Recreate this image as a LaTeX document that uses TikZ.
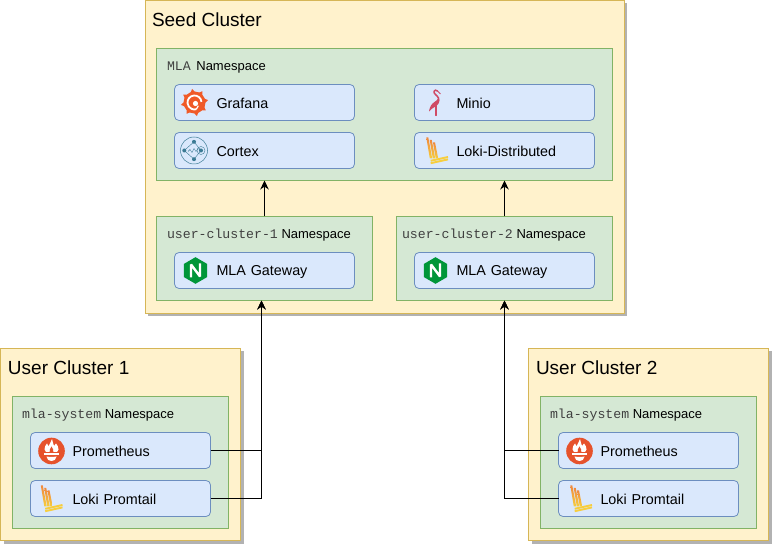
\documentclass[tikz,border=0pt]{standalone}
\usepackage{fontspec}
\setmainfont{Liberation Sans}
\newfontfamily\nsmono{Liberation Mono}
\usetikzlibrary{arrows.meta}
\usetikzlibrary{shadows}

\definecolor{clusterfill}{HTML}{FFF2CC}
\definecolor{clusterline}{HTML}{D6B656}
\definecolor{nsfill}{HTML}{D5E8D4}
\definecolor{nsline}{HTML}{82B366}
\definecolor{appfill}{HTML}{DAE8FC}
\definecolor{appline}{HTML}{6C8EBF}
\definecolor{grafanaorange}{HTML}{F05A28}
\definecolor{cortexblue}{HTML}{3B7A94}
\definecolor{miniored}{HTML}{CF4A65}
\definecolor{nginxgreen}{HTML}{009639}
\definecolor{promred}{HTML}{E6522C}
\definecolor{lokiorange}{HTML}{F0883C}
\definecolor{lokiyellow}{HTML}{F7CE3E}

\newcommand{\nstext}[1]{{\color{black!75}\nsmono\fontsize{13.2}{15}\selectfont #1}}

\tikzset{
    cluster/.style={draw=clusterline, fill=clusterfill, line width=0.8pt, anchor=north west,
        drop shadow={shadow xshift=3pt, shadow yshift=-3pt, fill=black!30, opacity=1}},
    nsbox/.style={draw=nsline, fill=nsfill, line width=0.8pt, anchor=north west},
    appbox/.style={draw=appline, fill=appfill, line width=0.8pt, rounded corners=4.5pt,
        minimum width=180pt, minimum height=36pt, inner xsep=4pt, inner ysep=0pt,
        text width=172pt, align=left, font=\fontsize{14.35}{16}\selectfont,
        execute at begin node={\rule[-1pt]{0pt}{14pt}\hspace*{38pt}}},
    clustertitle/.style={anchor=base west, inner sep=0pt, font=\fontsize{19}{21}\selectfont},
    nslabel/.style={anchor=base west, inner sep=0pt, font=\fontsize{13}{15}\selectfont},
    link/.style={line width=0.9pt, -{Stealth[length=9pt, width=8.5pt]}},
    pics/grafanaicon/.style={code={
        \foreach \a in {0,45,...,315}
            \fill[grafanaorange, rotate=10] (\a-15:10pt) -- (\a:13.8pt) -- (\a+15:10pt) -- cycle;
        \fill[grafanaorange] (0,0) circle (11pt);
        \draw[white, line width=1.8pt] (5:7pt) arc (5:285:7pt);
        \draw[white, line width=1.2pt] (285:7pt) -- (320:5pt);
        \fill[white] (1,1) circle (2.6pt);
    }},
    pics/cortexicon/.style={code={
        \draw[cortexblue, line width=0.5pt] (0,0) circle (13.5pt);
        \draw[cortexblue, line width=0.4pt] (-9.7,0) -- (0,-8.7) -- (7,0) -- (0,8.7) -- cycle;
        \draw[cortexblue, line width=0.4pt] (-6,1) -- (-4,-1) -- (-2,2) -- (0,-2) -- (2,1) -- (4,-2) -- (7,0);
        \draw[cortexblue, line width=0.4pt] (7,0) circle (4pt);
        \foreach \p in {(-9.7,0),(0,-8.7),(7,0),(0,8.7)}
            \fill[cortexblue] \p circle (2pt);
    }},
    pics/minioicon/.style={code={
        \draw[miniored, line width=1.5pt, line cap=round]
            (2,-11.5) .. controls (-1,-14) and (-3,-10) .. (0,-8)
            .. controls (3,-5.5) and (4,-3.5) .. (2,-1);
        \fill[miniored] (3.5,-5) .. controls (5,-1) and (3,2) .. (0,4)
            .. controls (-2,5) and (-5,7) .. (-6.5,9)
            .. controls (-6,5) and (-4,1) .. (-1,-0.5)
            .. controls (1,-1.5) and (2,-3) .. (3.5,-5) -- cycle;
        \draw[miniored, line width=1pt] (2,-11.5) -- (5,-8.5);
        \draw[miniored, line width=1.2pt, line cap=round] (0.5,3) -- (0.5,13);
    }},
    pics/lokiicon/.style={code={
        \foreach \xa/\ya/\xb in {-9.7/-13/-6,-6.3/-10.7/-3,-3/-8/0}
            \shade[top color=lokiorange, bottom color=lokiyellow]
                (\xa-1,\ya) -- (\xa+1,\ya) -- (\xb+1.2,8) -- (\xb-1.2,8) -- cycle;
        \foreach \y in {10.3,12.7}
            \draw[lokiyellow, line width=1.9pt] (-6.3,\y) -- (11,\y-3.8);
    }},
    pics/nginxicon/.style={code={
        \fill[nginxgreen] (90:13.3pt) -- (150:13.3pt) -- (210:13.3pt) -- (270:13.3pt) -- (330:13.3pt) -- (30:13.3pt) -- cycle;
        \draw[white, line width=2.4pt, line join=bevel] (-4.5,7) -- (-4.5,-6) -- (4.5,6) -- (4.5,-7);
    }},
    pics/promicon/.style={code={
        \fill[promred] (0,0.5) circle (13.3pt);
        \fill[white] (-7,-1) .. controls (-8,-4) and (-5,-5) .. (-4.5,-7)
            .. controls (-3.5,-6) and (-3,-5) .. (-3,-4)
            .. controls (-2,-6) and (-1,-8) .. (0.5,-11.5)
            .. controls (1,-8) and (2,-7) .. (2.5,-4.5)
            .. controls (3,-5) and (4,-6) .. (4.5,-7)
            .. controls (5,-5) and (8,-4) .. (7,-1)
            .. controls (6.5,0.5) and (6,1) .. (5.5,1.5)
            -- (-5.5,1.5) .. controls (-6,1) and (-6.5,0.5) .. (-7,-1) -- cycle;
        \fill[promred] (-1.8,1.5) .. controls (-3,-0.5) and (-0.8,-1.5) .. (0,-4)
            .. controls (0.8,-1.5) and (3,-0.5) .. (1.8,1.5) -- cycle;
        \fill[white] (-7.3,2.5) rectangle (7.3,5);
        \fill[white] (-5,6) .. controls (-3,6.5) and (3,6.5) .. (5,6)
            .. controls (4.5,9) and (3,10.5) .. (0,10.5)
            .. controls (-3,10.5) and (-4.5,9) .. (-5,6) -- cycle;
    }},
}

\begin{document}
\begin{tikzpicture}[x=1pt, y=-1pt, inner sep=0pt, outer sep=0pt]
    \useasboundingbox (0,0) rectangle (772,545);

    % Seed Cluster
    \node[cluster, minimum width=479pt, minimum height=313pt] (seed) at (145,0.5) {};
    \node[clustertitle] (seedtitle) at (152,26.3) {Seed Cluster};

    % MLA Namespace
    \node[nsbox, minimum width=456pt, minimum height=132pt] (mlans) at (156.5,48.5) {};
    \node[nslabel] (mlalabel) at (167,70.5) {\nstext{MLA}\hspace{2pt} Namespace};
    \node[appbox] (grafana) at (264.5,102.5) {Grafana};
    \node[appbox] (cortex) at (264.5,150.5) {Cortex};
    \node[appbox] (minio) at (504.5,102.5) {Minio};
    \node[appbox] (lokidist) at (504.5,150.5) {Loki-Distributed};
    \pic at ([xshift=20pt]grafana.west) {grafanaicon};
    \pic at ([xshift=19.5pt]cortex.west) {cortexicon};
    \pic at ([xshift=21pt]minio.west) {minioicon};
    \pic at ([xshift=22.5pt]lokidist.west) {lokiicon};

    % Gateway Namespaces
    \node[nsbox, minimum width=216pt, minimum height=84pt] (gwnsa) at (156.5,216.5) {};
    \node[nslabel] (gwlabela) at (167,238.5) {\nstext{user-cluster-1} Namespace};
    \node[appbox] (gatewaya) at (264.5,270.5) {MLA Gateway};
    \pic at ([xshift=21pt]gatewaya.west) {nginxicon};

    \node[nsbox, minimum width=216pt, minimum height=84pt] (gwnsb) at (396.5,216.5) {};
    \node[nslabel] (gwlabelb) at (402,238.5) {\nstext{user-cluster-2} Namespace};
    \node[appbox] (gatewayb) at (504.5,270.5) {MLA Gateway};
    \pic at ([xshift=21pt]gatewayb.west) {nginxicon};

    % User Cluster 1
    \node[cluster, minimum width=240pt, minimum height=192pt] (usera) at (0.5,348.5) {};
    \node[clustertitle] (usertitlea) at (8,374.3) {User Cluster 1};
    \node[nsbox, minimum width=216pt, minimum height=132pt] (sysnsa) at (12.5,396.5) {};
    \node[nslabel] (syslabela) at (22,418.5) {\nstext{mla-system} Namespace};
    \node[appbox] (proma) at (120.5,450.5) {Prometheus};
    \node[appbox] (promtaila) at (120.5,498.5) {Loki Promtail};
    \pic at ([xshift=21pt]proma.west) {promicon};
    \pic at ([xshift=21pt]promtaila.west) {lokiicon};

    % User Cluster 2
    \node[cluster, minimum width=240pt, minimum height=192pt] (userb) at (528.5,348.5) {};
    \node[clustertitle] (usertitleb) at (536,374.3) {User Cluster 2};
    \node[nsbox, minimum width=216pt, minimum height=132pt] (sysnsb) at (540.5,396.5) {};
    \node[nslabel] (syslabelb) at (550,418.5) {\nstext{mla-system} Namespace};
    \node[appbox] (promb) at (648.5,450.5) {Prometheus};
    \node[appbox] (promtailb) at (648.5,498.5) {Loki Promtail};
    \pic at ([xshift=21pt]promb.west) {promicon};
    \pic at ([xshift=22.5pt]promtailb.west) {lokiicon};

    % Connections
    \coordinate (gwtipa) at (261.5,300.5);
    \draw[link] (gwnsa.north) -- (gwnsa.north |- mlans.south);
    \draw[link] (gwnsb.north) -- (gwnsb.north |- mlans.south);
    \draw[link] (proma.east) -| (gwtipa);
    \draw[link] (promtaila.east) -| (gwtipa);
    \draw[link] (promb.west) -| (gwnsb.south);
    \draw[link] (promtailb.west) -| (gwnsb.south);
\end{tikzpicture}
\end{document}
